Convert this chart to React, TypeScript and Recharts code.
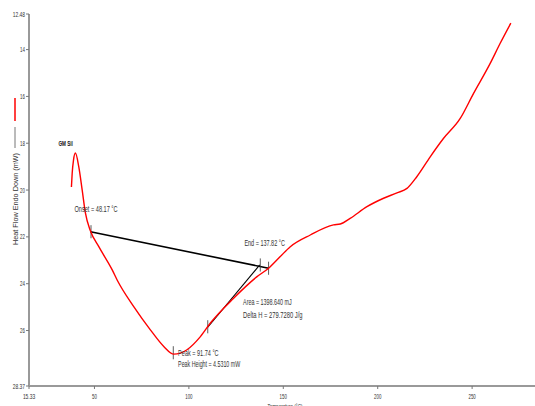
import React from 'react';
import { LineChart, Line, XAxis, YAxis, ReferenceLine, ReferenceDot } from 'recharts';

// Temperature (°C) of the DSC trace
const temps = [37.8, 38.2, 38.9, 39.9, 41.7, 43.5, 45.2, 47.9, 52.3, 59.4, 62.0, 70.8, 79.6, 86.7, 92.0, 99.0, 106.1, 111.4, 123.7, 136.1, 142.2, 148.4, 153.7, 164.3, 176.6, 180.2, 185.4, 194.3, 203.1, 210.2, 215.5, 220.7, 227.8, 234.8, 243.7, 250.7, 259.5, 264.8, 270.5];
// Heat flow (mW), endo down
const heatFlow = [19.87, 19.28, 18.72, 18.42, 19.01, 20.0, 20.98, 21.75, 22.42, 23.41, 23.84, 24.98, 25.97, 26.68, 27.01, 26.82, 26.26, 25.68, 24.62, 23.7, 23.34, 22.84, 22.42, 21.92, 21.49, 21.45, 21.21, 20.71, 20.35, 20.12, 19.93, 19.43, 18.58, 17.8, 16.94, 15.88, 14.6, 13.74, 12.87];

const xTicks = [15.33, 50, 100, 150, 200, 250];
const yTicks = [12.48, 14, 16, 18, 20, 22, 24, 26, 28, 28.37];
const xDomain = [15.33, 283.3];
const yDomain = [12.48, 28.37];

// Baseline construction lines [x1, y1, x2, y2]
const baselineSeg = [47.9, 21.78, 142.2, 23.34];
const partialSeg = [110.0, 25.86, 137.5, 23.2];
// Small vertical marker ticks [x, yCenter]
const markerTicks = [
  [48.17, 21.78],
  [137.82, 23.2],
  [142.2, 23.34],
  [110.0, 25.84],
  [91.74, 26.95],
];
// Annotation texts [text, x, y, bold]
const annotations: [string, number, number, boolean][] = [
  ['GM Sil', 30.95, 18.0, true],
  ['Onset = 48.17 °C', 39.4, 20.81, false],
  ['End = 137.82 °C', 129.4, 22.26, false],
  ['Area = 1398.640 mJ', 128.7, 24.79, false],
  ['Delta H = 279.7280 J/g', 128.7, 25.33, false],
  ['Peak = 91.74 °C', 94.3, 26.98, false],
  ['Peak Height = 4.5310 mW', 94.3, 27.44, false],
];

const data = temps.map((t, i) => ({ t, hf: heatFlow[i] }));

const FONT = '"Liberation Sans Narrow", "Liberation Sans", Arial, sans-serif';
const TXT = '#333';

const YTick = (props: any) => {
  const { x, y, payload } = props;
  if (payload.value === 28) return null;
  const s = String(payload.value);
  return (
    <text x={x} y={y} textAnchor="end" dominantBaseline="central" fontSize={8} fill={TXT} fontFamily={FONT}
      textLength={s.length * 2.45} lengthAdjust="spacingAndGlyphs">{s}</text>
  );
};

const XTick = (props: any) => {
  const { x, y, payload } = props;
  const s = String(payload.value);
  return (
    <text x={x} y={y + 5} textAnchor="middle" dominantBaseline="central" fontSize={8} fill={TXT} fontFamily={FONT}
      textLength={s.length * 2.45} lengthAdjust="spacingAndGlyphs">{s}</text>
  );
};

const YLabel = (props: any) => {
  const vb = props.viewBox || { x: 0, y: 0, width: 0, height: 0 };
  const cx = vb.x + 14.5;
  const cy = vb.y + vb.height / 2;
  const ty = cy - 1;
  return (
    <g>
      <line x1={cx - 0.5} x2={cx - 0.5} y1={cy - 102} y2={cy - 79} stroke="#ff0000" strokeWidth={1.5} />
      <line x1={cx - 0.5} x2={cx - 0.5} y1={cy - 73} y2={cy - 52} stroke="#777" strokeWidth={1} />
      <text x={cx} y={ty} transform={`rotate(-90 ${cx} ${ty})`} textAnchor="middle" dominantBaseline="central"
        fontSize={8} fill={TXT} fontFamily={FONT} textLength={92} lengthAdjust="spacingAndGlyphs">
        Heat Flow Endo Down (mW)
      </text>
    </g>
  );
};

const XLabel = (props: any) => {
  const vb = props.viewBox || { x: 0, y: 0, width: 0, height: 0 };
  return (
    <text x={285} y={vb.y + 17} textAnchor="middle" dominantBaseline="hanging" fontSize={7.5} fill={TXT} fontFamily={FONT}
      textLength={35} lengthAdjust="spacingAndGlyphs">Temperature (°C)</text>
  );
};

const makeAnnot = (text: string, bold: boolean) => (props: any) => {
  const vb = props.viewBox || { x: 0, y: 0 };
  const w = bold ? text.length * 2.4 : text.length * 2.7;
  return (
    <text x={vb.x} y={vb.y} textAnchor="start" dominantBaseline="central" fontSize={bold ? 7.5 : 8.5}
      fontWeight={bold ? 'bold' : 'normal'} fill={bold ? '#111' : TXT} fontFamily={FONT}
      textLength={w} lengthAdjust="spacingAndGlyphs">{text}</text>
  );
};

export default function App() {
  return (
    <div style={{ position: 'absolute', left: 0, top: 0, background: '#fff' }}>
      <LineChart width={535} height={406} data={data} margin={{ top: 14, right: 0, bottom: 0, left: 1 }}>
        <XAxis
          dataKey="t"
          type="number"
          domain={xDomain}
          ticks={xTicks}
          allowDataOverflow
          height={20}
          axisLine={{ stroke: '#999', strokeWidth: 2 }}
          tickLine={{ stroke: '#777' }}
          tickSize={3}
          tick={<XTick />}
          label={<XLabel />}
        />
        <YAxis
          type="number"
          reversed
          domain={yDomain}
          ticks={yTicks}
          allowDataOverflow
          width={28}
          axisLine={{ stroke: '#999', strokeWidth: 2 }}
          tickLine={{ stroke: '#777' }}
          tickSize={3}
          tickMargin={1}
          tick={<YTick />}
          label={<YLabel />}
        />
        <ReferenceLine
          segment={[{ x: baselineSeg[0], y: baselineSeg[1] }, { x: baselineSeg[2], y: baselineSeg[3] }]}
          stroke="#000" strokeWidth={1.6} ifOverflow="visible"
        />
        <ReferenceLine
          segment={[{ x: partialSeg[0], y: partialSeg[1] }, { x: partialSeg[2], y: partialSeg[3] }]}
          stroke="#000" strokeWidth={1.1} ifOverflow="visible"
        />
        {markerTicks.map(([x, y], i) => (
          <ReferenceLine key={'mt' + i}
            segment={[{ x, y: y - 0.28 }, { x, y: y + 0.28 }]}
            stroke="#333" strokeWidth={0.8} ifOverflow="visible"
          />
        ))}
        <Line
          type="monotone"
          dataKey="hf"
          stroke="#ff0000"
          strokeWidth={1.4}
          dot={false}
          isAnimationActive={false}
        />
        {annotations.map(([text, x, y, bold], i) => (
          <ReferenceDot key={'an' + i} x={x} y={y} r={0} fill="none" stroke="none" ifOverflow="visible"
            label={makeAnnot(text, bold)} />
        ))}
      </LineChart>
    </div>
  );
}
